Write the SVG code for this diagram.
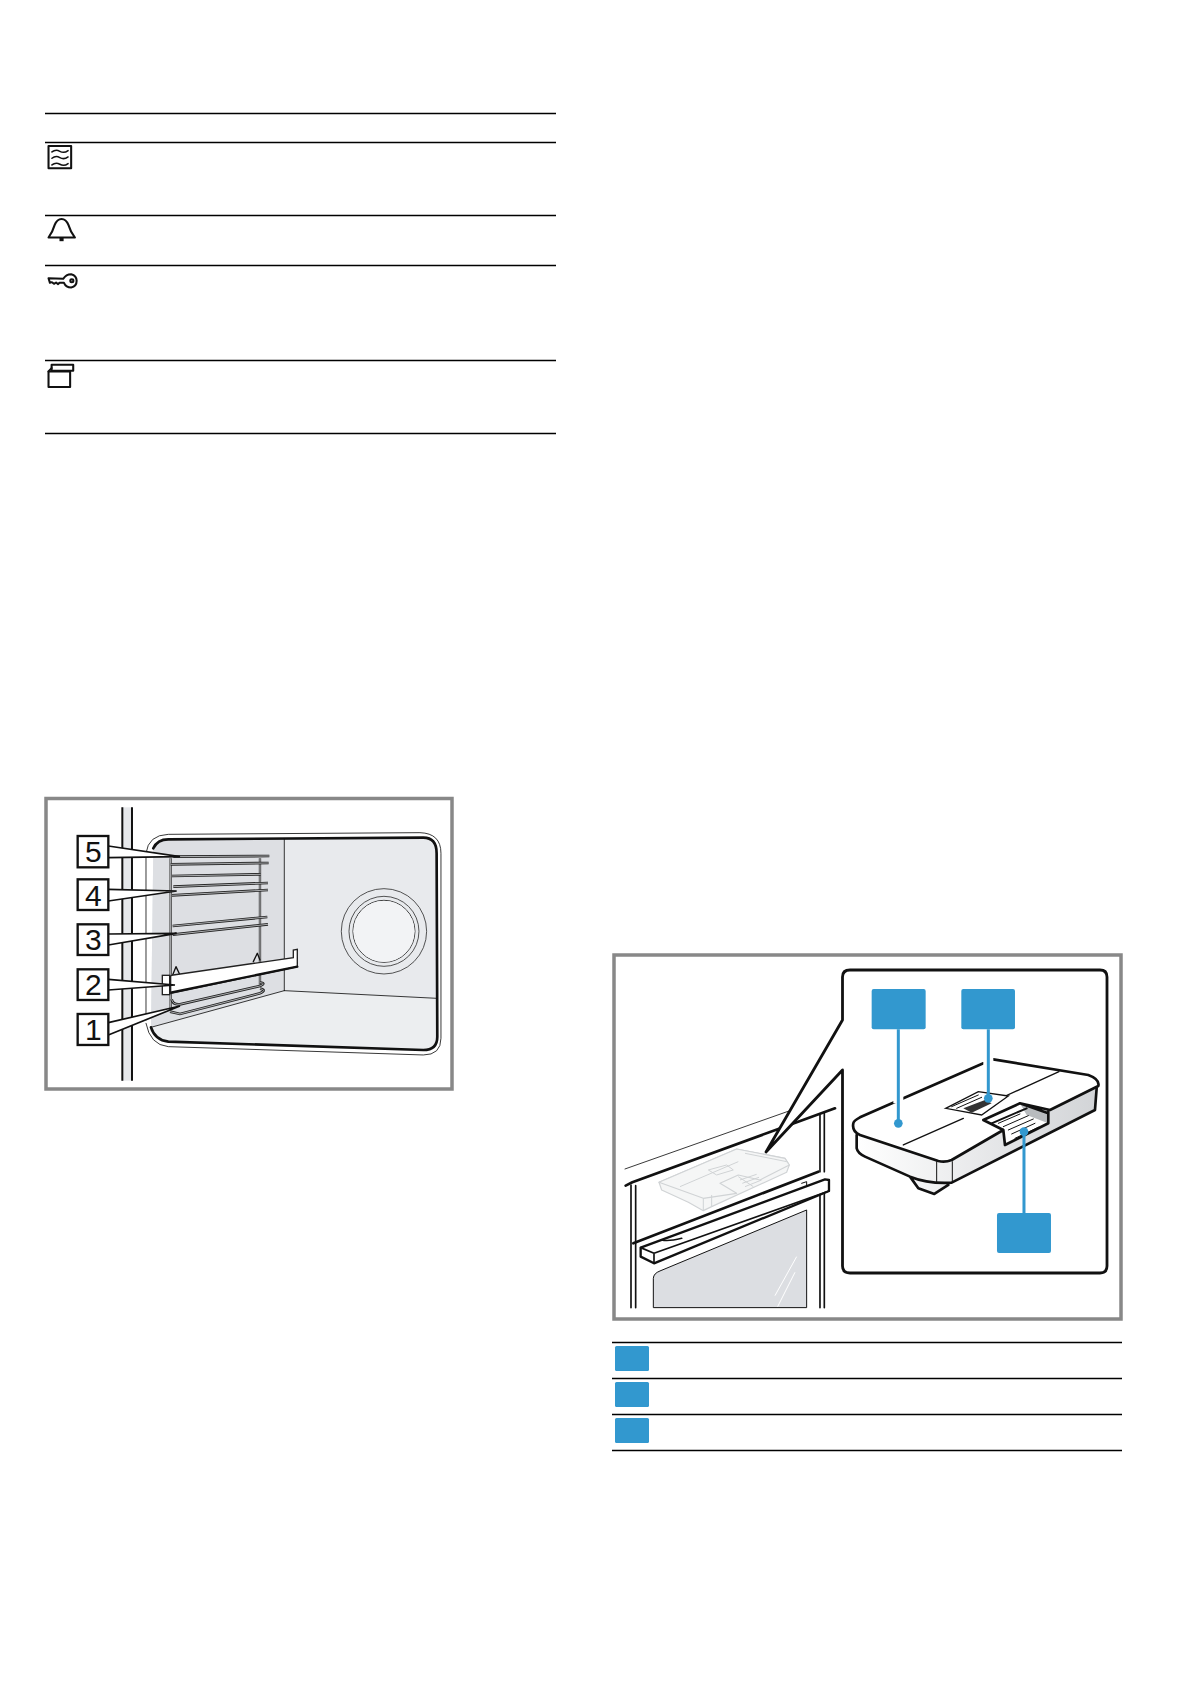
<svg xmlns="http://www.w3.org/2000/svg" width="1191" height="1684" viewBox="0 0 1191 1684">
<style>
.rule{stroke:#000;stroke-width:1.3;fill:none}
.frame{fill:#fff;stroke:#888;stroke-width:3.5}
.ic{fill:none;stroke:#111;stroke-width:6;stroke-linejoin:round;stroke-linecap:round}
.ict{fill:none;stroke:#111;stroke-width:4.5;stroke-linecap:round}
.k{fill:none;stroke:#111;stroke-linecap:round;stroke-linejoin:round}
.lab{fill:#fff;stroke:#111;stroke-width:7}
.wedge{fill:#fff;stroke:#111;stroke-width:5;stroke-linejoin:miter}
.num{font-family:"Liberation Sans",Arial,sans-serif;font-size:90px;fill:#111;text-anchor:middle}
.blue{fill:#3298cf}
.bl{stroke:#3298cf;stroke-width:9;fill:none}
.halo{stroke:#fff;stroke-width:30;fill:none}
.ghost{fill:#f5f6f6;stroke:#d0d3d5;stroke-width:3.5;stroke-linejoin:round}
.ghl{fill:none;stroke:#d0d3d5;stroke-width:3}
</style>
<defs>
<linearGradient id="side" x1="0" x2="1" y1="0" y2="0"><stop offset="0" stop-color="#fff"/><stop offset="1" stop-color="#d2d4d7"/></linearGradient>
<path id="rails" d="M400,200 L688,198M392,223 L686,219M396,258 L662,253M400,290 L684,279M396,316 L684,300M398,408 L682,381M398,434 L684,403M395,628 Q398,645 420,643 L660,588 Q680,580 660,578M390,665 L420,672 L660,610 Q682,600 660,596"/>
</defs>

<g id="table-top">
<line class="rule" x1="45" y1="113.5" x2="556" y2="113.5"/>
<line class="rule" x1="45" y1="142.5" x2="556" y2="142.5"/>
<line class="rule" x1="45" y1="215.5" x2="556" y2="215.5"/>
<line class="rule" x1="45" y1="265.5" x2="556" y2="265.5"/>
<line class="rule" x1="45" y1="360.5" x2="556" y2="360.5"/>
<line class="rule" x1="45" y1="433.5" x2="556" y2="433.5"/>
</g>
<g id="icon-microwave" transform="translate(30,100) scale(.343,.333)">
<rect class="ic" x="54" y="138" width="66" height="67"/>
<path class="ict" d="M64,156 q11,-9 23,-2 t24,-2 M64,175 q11,-9 23,-2 t24,-2 M64,195 q11,-9 23,-2 t24,-2"/>
</g>
<g id="icon-bell" transform="translate(30,100) scale(.343,.333)">
<path class="ic" d="M54,413 Q66,396 72,375 Q79,357 92,357 Q105,357 112,375 Q118,396 131,413 Z"/>
<rect x="86" y="413" width="12" height="11" fill="#111"/>
</g>
<g id="icon-key" transform="translate(30,100) scale(.343,.333)">
<path class="ic" d="M54,535 L97,537 Q105,523 120,523 Q136,527 136,543 Q136,560 120,563 Q105,563 99,549 L86,549 L82,553 L76,548 L70,552 L64,547 L58,549 Z"/>
<circle cx="122" cy="543" r="4.5" class="ic"/>
</g>
<g id="icon-door" transform="translate(30,100) scale(.343,.333)">
<rect class="ic" x="54" y="815" width="63" height="47"/>
<rect class="ic" x="63" y="795" width="63" height="18" fill="#fff"/>
<line class="ic" x1="54" y1="815" x2="63" y2="805"/>
</g>

<g id="oven-illustration">
<rect class="frame" x="46" y="798.5" width="406" height="290.5"/>
<g transform="translate(40,790) scale(.3333)">
<rect x="247" y="52" width="29" height="820" fill="#e6e8eb"/>
<path d="M247,52V872M276,52V872" stroke="#111" stroke-width="6" fill="none"/>
<path d="M340,175 Q352,148 385,148 L1150,143 Q1190,143 1190,190 L1192,740 Q1192,780 1150,780 L385,755 Q345,750 333,712 Z" fill="#e8eaed"/>
<path d="M340,175 Q352,148 385,148 L733,148 L733,602 L333,712 Z" fill="#dddfe3"/>
<path d="M733,602 L1190,625 L1192,740 Q1192,780 1150,780 L385,755 Q345,750 333,712 Z" fill="#eceef0"/>
<path d="M340,175 Q352,148 385,148 L1150,143 Q1190,143 1190,190 L1192,740 Q1192,780 1150,780 L385,755 Q345,750 333,712" class="k" stroke-width="8"/>
<path d="M318,690 L318,190 Q325,135 385,133 L1140,128 Q1203,130 1203,190 L1203,745 Q1203,795 1150,795 L385,770 Q330,765 318,700" class="k" stroke-width="2.5"/>
<path d="M733,148V602M733,602L1190,625M333,712L733,602" class="k" stroke-width="2.5"/>
<g fill="none" stroke="#333">
<circle cx="1032" cy="424" r="128" stroke-width="2.5"/>
<circle cx="1032" cy="424" r="105" stroke-width="2.5"/>
<circle cx="1032" cy="424" r="93" stroke-width="3"/>
</g>
<circle cx="1032" cy="424" r="92" fill="#f2f3f5"/>
<path d="M392,205 V660M660,205 V590" fill="none" stroke="#333" stroke-width="7"/>
<path d="M392,205 V660M660,205 V590" fill="none" stroke="#d0d2d5" stroke-width="2.5"/>
<use href="#rails" fill="none" stroke="#222" stroke-width="8"/>
<use href="#rails" fill="none" stroke="#c8cacd" stroke-width="2.5"/>
<path d="M398,555 L408,530 L420,555M640,515 L652,490 L660,510" class="k" stroke-width="4" fill="#fff"/>
<path d="M400,555 L760,503 L760,480 L772,478 L772,530 L392,610 V558Z" fill="#fff" stroke="#222" stroke-width="4"/>
<path d="M395,607 L772,530" class="k" stroke-width="7"/>
<rect x="367" y="556" width="22" height="58" fill="#fff" stroke="#222" stroke-width="4"/>
<path class="wedge" d="M205,168 L420,200 L205,203"/>
<rect class="lab" x="113" y="138" width="92" height="94"/>
<text class="num" x="160" y="217">5</text>
<path class="wedge" d="M205,298 L410,303 L205,333"/>
<rect class="lab" x="113" y="268" width="92" height="92"/>
<text class="num" x="160" y="347">4</text>
<path class="wedge" d="M205,432 L410,430 L205,465"/>
<rect class="lab" x="113" y="403" width="92" height="92"/>
<text class="num" x="160" y="481">3</text>
<path class="wedge" d="M205,568 L405,585 L205,600"/>
<rect class="lab" x="113" y="538" width="92" height="92"/>
<text class="num" x="160" y="615">2</text>
<path class="wedge" d="M205,698 L420,648 L205,735"/>
<rect class="lab" x="113" y="672" width="92" height="93"/>
<text class="num" x="160" y="750">1</text>
</g>
</g>

<g id="drawer-illustration">
<rect class="frame" x="614" y="955" width="507" height="364"/>
<g transform="translate(605,945) scale(.3333)">
<path d="M60,672 L555,497" class="k" stroke-width="2.5"/>
<path d="M62,722 L82,712 L520,552 L690,490" class="k" stroke-width="8"/>
<path d="M78,720 V1088M92,722 V1088M645,510 V680M658,505 V680M645,745 V1088M658,740 V1088" class="k" stroke-width="5"/>
<path class="ghost" d="M162,712 L395,612 L540,640 L553,660 L545,682 L320,785 L295,797 L250,772 L170,735 Z"/>
<path class="ghost" d="M162,712 L395,612 L540,640 L553,660 L465,705 L400,690 L345,715 L395,745 L295,760 Z"/>
<path class="ghl" d="M225,725 L400,650M420,625 L545,650M295,760 V797M320,750 V785M310,675 L365,660 L385,675 L335,690Z M400,695 L445,725M405,705 L455,688M412,715 L462,697M420,725 L470,705"/>
<path d="M85,895 L640,680" class="k" stroke-width="8"/>
<path d="M107,908 L660,703 L672,705 L672,738 L147,955 L107,935 Z" fill="#fff" stroke="#111" stroke-width="7" stroke-linejoin="round"/>
<path d="M107,908 L147,925 V955M147,925 L672,738M170,885 Q190,890 230,880" class="k" stroke-width="5"/>
<path d="M590,715 L605,710 V725" class="k" stroke-width="3"/>
<path d="M145,1088 V1000 Q146,985 165,978 L605,795 V1088 Z" fill="#dcdee2" stroke="#111" stroke-width="3"/>
<path d="M510,1052 L575,935M518,1085 L570,982" stroke="#fff" stroke-width="3" fill="none"/>
</g>
<path d="M842.5,1020 V977 Q842.5,970 850,970 H1100 Q1107,970 1107,977 V1266 Q1107,1273 1100,1273 H850 Q842.5,1273 842.5,1266 V1070 L766,1152 L842.5,1020 Z" fill="#fff" stroke="#111" stroke-width="2.8" stroke-linejoin="round"/>
<g transform="translate(835,960) scale(.3333)">
<path d="M65,525 V565 Q68,580 90,590 L225,650 L250,685 L298,702 L340,675 L352,668 L780,450 L785,385 Z" fill="url(#side)"/>
<path d="M65,525 V565 Q68,580 90,590 L225,650 L250,685 L298,702 L340,675 M225,650 Q280,672 350,668 L780,450 L785,385" class="k" stroke-width="8"/>
<path d="M305,605 V668M352,605 V668" class="k" stroke-width="3"/>
<path d="M445,480 L555,430 L640,460 L640,490 L512,558 L505,510 Z" fill="#fff"/>
<path d="M555,430 L640,460 L640,490 L575,465 Z" fill="#b8bbbe"/>
<path d="M60,480 L445,310 Q470,298 495,298 L760,345 Q795,358 790,378 L645,450 L555,430 L445,480 L505,510 L350,600 Q330,608 310,603 L75,525 Q50,515 55,490 Z" fill="#fff"/>
<path d="M75,525 L310,603 Q330,608 350,600 L505,510 M75,525 Q50,515 55,490 Q55,483 75,472 L445,310 M475,298 L760,345 Q795,358 790,378 L645,450 L555,430 L445,480 L505,510 L510,555 L640,490 L640,455 M555,430 L640,460" class="k" stroke-width="8"/>
<path d="M470,490 L575,445" class="k" stroke-width="6"/>
<path d="M205,555 L385,475M485,420 L672,335" class="k" stroke-width="4"/>
<path d="M332,445 L430,395 L520,408 L440,465 Z" fill="#fff" stroke="#111" stroke-width="4"/>
<path d="M385,445 L450,420 L470,430 L410,458 Z" fill="#333"/>
<path d="M350,440 L430,405M365,445 L440,412" class="k" stroke-width="3"/>
<path d="M490,490 L555,462M505,500 L580,467M520,510 L595,477M530,522 L600,490M540,535 L610,502" class="k" stroke-width="3"/>
<path class="halo" d="M190,385V430M460,290V325"/>
<rect class="blue" x="110" y="87" width="162" height="121" rx="6"/>
<rect class="blue" x="379" y="87" width="161" height="121" rx="6"/>
<rect class="blue" x="486" y="759" width="162" height="120" rx="6"/>
<path class="bl" d="M190,208 V490M460,208 V415M567,759 V515"/>
<circle class="blue" cx="190" cy="490" r="13"/>
<circle class="blue" cx="460" cy="415" r="13"/>
<circle class="blue" cx="567" cy="515" r="13"/>
</g>
</g>

<g id="legend">
<line class="rule" x1="612" y1="1342.5" x2="1122" y2="1342.5"/>
<line class="rule" x1="612" y1="1378.5" x2="1122" y2="1378.5"/>
<line class="rule" x1="612" y1="1414.5" x2="1122" y2="1414.5"/>
<line class="rule" x1="612" y1="1450.5" x2="1122" y2="1450.5"/>
<rect class="blue" x="615" y="1346" width="34" height="25" rx="1.5"/>
<rect class="blue" x="615" y="1382" width="34" height="25" rx="1.5"/>
<rect class="blue" x="615" y="1418" width="34" height="25" rx="1.5"/>
</g>
</svg>
